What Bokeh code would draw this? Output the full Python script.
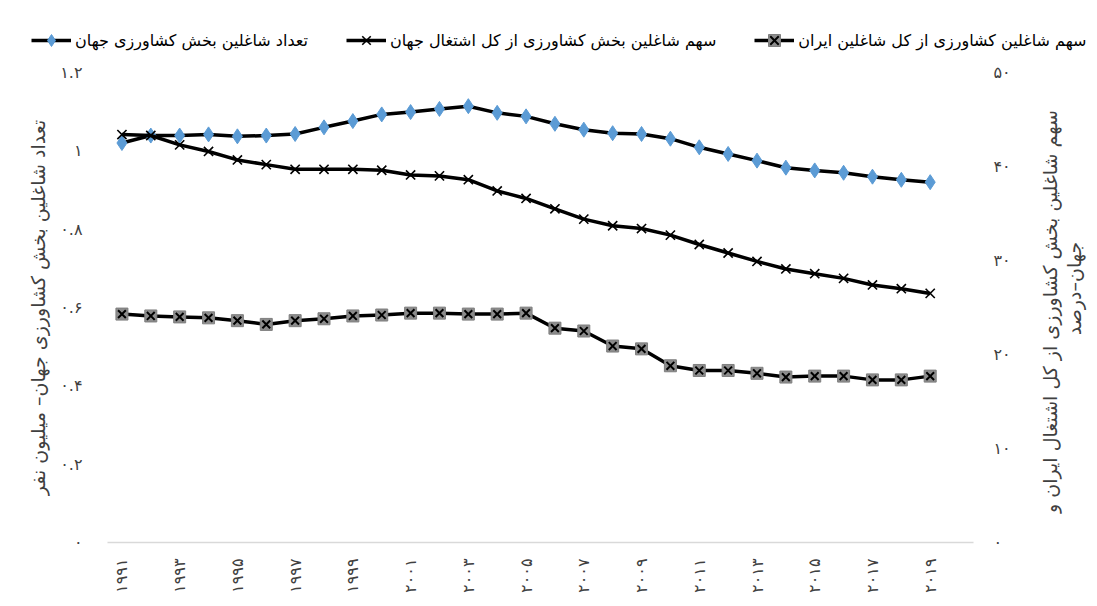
from math import pi
from bokeh.plotting import figure
from bokeh.layouts import column, row
from bokeh.models import (Range1d, LinearAxis, FixedTicker, Legend, LegendItem, Label)
from bokeh.embed import file_html
from bokeh.resources import INLINE

years = list(range(1991, 2020))
world_count = [1.020, 1.039, 1.039, 1.042, 1.037, 1.039, 1.043, 1.060, 1.076, 1.093,
               1.099, 1.107, 1.114, 1.097, 1.088, 1.069, 1.054, 1.045, 1.043, 1.031,
               1.009, 0.992, 0.975, 0.957, 0.950, 0.944, 0.934, 0.926, 0.920]
world_share = [43.4, 43.3, 42.3, 41.6, 40.7, 40.2, 39.7, 39.7, 39.7, 39.6,
               39.1, 39.0, 38.6, 37.4, 36.6, 35.5, 34.4, 33.7, 33.4, 32.7,
               31.7, 30.8, 29.9, 29.1, 28.6, 28.1, 27.4, 27.0, 26.5]
iran_share = [24.3, 24.1, 24.0, 23.9, 23.6, 23.2, 23.6, 23.8, 24.1, 24.2,
              24.4, 24.4, 24.3, 24.3, 24.4, 22.8, 22.5, 20.9, 20.6, 18.8,
              18.3, 18.3, 18.0, 17.6, 17.7, 17.7, 17.3, 17.3, 17.7]

name_count = "تعداد شاغلین بخش کشاورزی جهان"
name_world = "سهم شاغلین بخش کشاورزی از کل اشتغال جهان"
name_iran = "سهم شاغلین کشاورزی از کل شاغلین ایران"
left_title = "تعداد شاغلین بخش کشاورزی جهان– میلیون نفر"
right_title_1 = "سهم شاغلین بخش کشاورزی از کل اشتغال ایران و"
right_title_2 = "جهان–درصد"

left_ticks = [0, 0.2, 0.4, 0.6, 0.8, 1.0, 1.2]
right_ticks = [0, 10, 20, 30, 40, 50]
x_ticks = list(range(1991, 2020, 2))

FA = str.maketrans("0123456789", "۰۱۲۳۴۵۶۷۸۹")
def fa(v):
    return ("%g" % v).translate(FA)

FONT = "DejaVu Sans"
GREY = "#404040"
BLUE = "#5b9bd5"
W, H = 1095, 604
LEG_H = 58
MAIN_W = 1020
RIGHT_W = W - MAIN_W


def add_series(fig, with_extra):
    kw = {"y_range_name": "pct"} if with_extra else {}
    l1 = fig.line(years, world_count, line_color="black", line_width=3.5)
    m1 = fig.scatter(years, world_count, marker="diamond", size=15, fill_color=BLUE,
                     line_color=BLUE, line_width=1)
    l3 = fig.line(years, iran_share, line_color="black", line_width=3.5, **kw)
    m3a = fig.scatter(years, iran_share, marker="square", size=12,
                      fill_color="#8c8c8c", line_color="#7f7f7f", line_width=1, **kw)
    m3b = fig.scatter(years, iran_share, marker="x", size=11,
                      line_color="black", line_width=2, **kw)
    l2 = fig.line(years, world_share, line_color="black", line_width=3.5, **kw)
    m2 = fig.scatter(years, world_share, marker="x", size=13,
                     line_color="black", line_width=1.6, **kw)
    return [l1, m1], [l2, m2], [l3, m3a, m3b]


def bare(fig):
    fig.outline_line_color = None
    fig.xgrid.grid_line_color = None
    fig.ygrid.grid_line_color = None
    if "frame_align" in fig.properties():
        fig.frame_align = False


# ---------- main chart ----------
p = figure(width=MAIN_W, height=H - LEG_H, output_backend="svg", toolbar_location=None,
           x_range=Range1d(1990.5, 2020.5), y_range=Range1d(0, 1.2),
           min_border_left=107, min_border_right=MAIN_W - 973, min_border_top=72 - LEG_H,
           min_border_bottom=H - 542)
p.extra_y_ranges = {"pct": Range1d(0, 50)}
bare(p)

la = p.yaxis[0]
la.ticker = FixedTicker(ticks=left_ticks)
la.major_label_overrides = {t: fa(t) for t in left_ticks}
la.axis_line_color = None
la.major_tick_line_color = None
la.minor_tick_line_color = None
la.major_label_standoff = 19
la.major_label_text_font = FONT
la.major_label_text_font_size = "16px"
la.major_label_text_color = GREY
la.axis_label = left_title
la.axis_label_text_font = FONT
la.axis_label_text_font_size = "19px"
la.axis_label_text_font_style = "normal"
la.axis_label_text_color = GREY
la.axis_label_standoff = 8

ra = LinearAxis(y_range_name="pct", ticker=FixedTicker(ticks=right_ticks))
ra.major_label_overrides = {t: fa(t) for t in right_ticks}
ra.axis_line_color = None
ra.major_tick_line_color = None
ra.minor_tick_line_color = None
ra.major_label_standoff = 14
ra.major_label_text_font = FONT
ra.major_label_text_font_size = "16px"
ra.major_label_text_color = GREY
p.add_layout(ra, "right")

xa = p.xaxis[0]
xa.ticker = FixedTicker(ticks=x_ticks)
xa.major_label_overrides = {t: fa(t) for t in x_ticks}
xa.major_label_orientation = pi / 2
xa.axis_line_color = "#d9d9d9"
xa.axis_line_width = 1.5
xa.major_tick_line_color = None
xa.minor_tick_line_color = None
xa.major_label_standoff = 10
xa.major_label_text_font = FONT
xa.major_label_text_font_size = "16px"
xa.major_label_text_color = GREY

add_series(p, True)

# ---------- right-hand axis title strip ----------
rf = figure(width=RIGHT_W, height=H - LEG_H, output_backend="svg", toolbar_location=None,
            x_range=Range1d(0, RIGHT_W), y_range=Range1d(0, H - LEG_H),
            x_axis_type=None, y_axis_type=None,
            min_border_left=0, min_border_right=0, min_border_top=0, min_border_bottom=0)
bare(rf)
for txt, xv, yv in [(right_title_1, 29, 293), (right_title_2, 53, 316)]:
    rf.add_layout(Label(x=xv, y=yv, text=txt, angle=pi / 2, text_align="center",
                        text_baseline="middle", text_font=FONT, text_font_size="19px",
                        text_color=GREY))

# ---------- legend strip (its series lie outside its visible range) ----------
lg = figure(width=W, height=LEG_H, output_backend="svg", toolbar_location=None,
            x_range=Range1d(0, 1), y_range=Range1d(-10, -9),
            x_axis_type=None, y_axis_type=None,
            min_border_left=0, min_border_right=0, min_border_top=0, min_border_bottom=0)
bare(lg)
r1, r2, r3 = add_series(lg, False)

legend = Legend(items=[
    LegendItem(label=name_count, renderers=r1),
    LegendItem(label=name_world, renderers=r2),
    LegendItem(label=name_iran, renderers=r3),
], orientation="horizontal", location=(31, 3),
    glyph_width=40, glyph_height=30, label_standoff=4, spacing=38,
    padding=0, margin=0, border_line_alpha=0, background_fill_alpha=0,
    label_text_font=FONT, label_text_font_size="16px", label_text_color="#000000")
lg.add_layout(legend)

layout = column(lg, row(p, rf, spacing=0), spacing=0)
open("out.html", "w").write(file_html(layout, INLINE))
